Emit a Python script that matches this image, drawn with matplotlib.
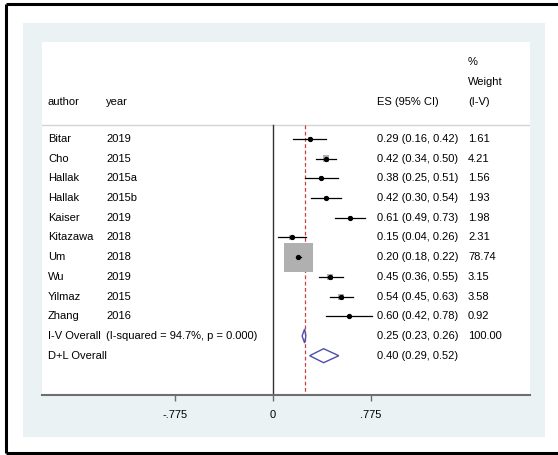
import matplotlib
matplotlib.use("Agg")
import matplotlib.pyplot as plt
from matplotlib.patches import Rectangle, Polygon
from matplotlib.lines import Line2D

plt.rcParams['font.family'] = ['Liberation Sans', 'DejaVu Sans']

# ---- data ----
authors = ["Bitar", "Cho", "Hallak", "Hallak", "Kaiser", "Kitazawa", "Um", "Wu", "Yilmaz", "Zhang"]
years = ["2019", "2015", "2015a", "2015b", "2019", "2018", "2018", "2019", "2015", "2016"]
es = [0.29, 0.42, 0.38, 0.42, 0.61, 0.15, 0.20, 0.45, 0.54, 0.60]
lo = [0.16, 0.34, 0.25, 0.30, 0.49, 0.04, 0.18, 0.36, 0.45, 0.42]
hi = [0.42, 0.50, 0.51, 0.54, 0.73, 0.26, 0.22, 0.55, 0.63, 0.78]
weights = [1.61, 4.21, 1.56, 1.93, 1.98, 2.31, 78.74, 3.15, 3.58, 0.92]
iv_overall = (0.25, 0.23, 0.26)
dl_overall = (0.40, 0.29, 0.52)
iv_label = "(I-squared = 94.7%, p = 0.000)"
ticks = [-0.775, 0.0, 0.775]
tick_labels = ["-.775", "0", ".775"]

# ---- geometry (pixels) ----
W, H = 558, 455
fig = plt.figure(figsize=(W / 100, H / 100), dpi=100)
fig.patch.set_facecolor("white")

def fx(p):
    return p / W

def fy(p):
    return 1 - p / H

# light outer panel
fig.add_artist(Rectangle((fx(23), fy(437)), fx(545) - fx(23), fy(23) - fy(437),
                         transform=fig.transFigure, facecolor="#eaf2f3", edgecolor="none", zorder=0))
# black frame (left, top, bottom)
for xs, ys in [([6, 6], [4, 453]), ([6, 558], [4, 4]), ([6, 558], [453, 453])]:
    fig.add_artist(Line2D([fx(v) for v in xs], [fy(v) for v in ys], transform=fig.transFigure,
                          color="black", lw=2.2, solid_capstyle="butt"))

left_px, right_px, top_px, bot_px = 42, 530, 42, 395
ax = fig.add_axes([fx(left_px), fy(bot_px), fx(right_px) - fx(left_px), fy(top_px) - fy(bot_px)])
ax.set_facecolor("white")

x0_px, scale = 273.0, 126.5   # pixel of zero, pixels per unit

def dx(p):
    return (p - x0_px) / scale

ax.set_xlim(dx(left_px), dx(right_px))
ax.set_ylim(bot_px, top_px)

for s in ["top", "left", "right"]:
    ax.spines[s].set_visible(False)
ax.spines["bottom"].set_color("#6e6e6e")
ax.spines["bottom"].set_linewidth(1.5)
ax.set_yticks([])
ax.set_xticks(ticks)
ax.set_xticklabels(tick_labels, fontsize=8)
ax.tick_params(axis="x", direction="out", length=4, width=1, color="#6e6e6e", pad=7)

row0, step = 139.0, 19.7
ys_rows = [row0 + step * i for i in range(len(authors))]
y_iv = row0 + step * len(authors)
y_dl = y_iv + step
sep_y = 125
fs = 8

# separator and reference lines
ax.plot([dx(left_px), dx(right_px)], [sep_y, sep_y], color="#d4d4d4", lw=1)
ax.plot([0, 0], [sep_y, bot_px], color="#333333", lw=1)
ax.plot([iv_overall[0], iv_overall[0]], [sep_y, bot_px], color="#c8413f", lw=0.9,
        dashes=(3, 2))

# headers
col_author, col_year, col_es, col_w = dx(48), dx(106), dx(377), dx(468)
ax.text(col_author, 102, "author", fontsize=fs, va="center")
ax.text(col_year, 102, "year", fontsize=fs, va="center")
ax.text(col_es, 102, "ES (95% CI)", fontsize=fs, va="center")
ax.text(col_w, 62, "%", fontsize=fs, va="center")
ax.text(col_w, 82, "Weight", fontsize=fs, va="center")
ax.text(col_w, 102, "(I-V)", fontsize=fs, va="center")

wmax = max(weights)
big_side = 29.0
for a, yr, e, l, h, w, y in zip(authors, years, es, lo, hi, weights, ys_rows):
    ax.text(col_author, y, a, fontsize=fs, va="center")
    ax.text(col_year, y, yr, fontsize=fs, va="center")
    ax.text(col_es, y, f"{e:.2f} ({l:.2f}, {h:.2f})", fontsize=fs, va="center")
    ax.text(col_w, y, f"{w:.2f}", fontsize=fs, va="center")
    side = big_side * (w / wmax) ** 0.5
    ax.add_patch(Rectangle((e - side / 2 / scale, y - side / 2), side / scale, side,
                           facecolor="#b0b0b0", edgecolor="none", zorder=2))
    ax.plot([l, h], [y, y], color="black", lw=0.9, zorder=3)
    ax.plot([e], [y], marker="o", ms=2.8, color="black", zorder=4)

# overall rows
ax.text(col_author, y_iv, "I-V Overall", fontsize=fs, va="center")
ax.text(col_year, y_iv, iv_label, fontsize=fs, va="center")
ax.text(col_es, y_iv, f"{iv_overall[0]:.2f} ({iv_overall[1]:.2f}, {iv_overall[2]:.2f})",
        fontsize=fs, va="center")
ax.text(col_w, y_iv, "100.00", fontsize=fs, va="center")
ax.text(col_author, y_dl, "D+L Overall", fontsize=fs, va="center")
ax.text(col_es, y_dl, f"{dl_overall[0]:.2f} ({dl_overall[1]:.2f}, {dl_overall[2]:.2f})",
        fontsize=fs, va="center")

half_h = 7.0
for (e, l, h), y in [(iv_overall, y_iv), (dl_overall, y_dl)]:
    ax.add_patch(Polygon([(l, y), (e, y - half_h), (h, y), (e, y + half_h)], closed=True,
                         facecolor="none", edgecolor="#4f4fa8", lw=1, zorder=4))

fig.savefig("out.png", dpi=100)
